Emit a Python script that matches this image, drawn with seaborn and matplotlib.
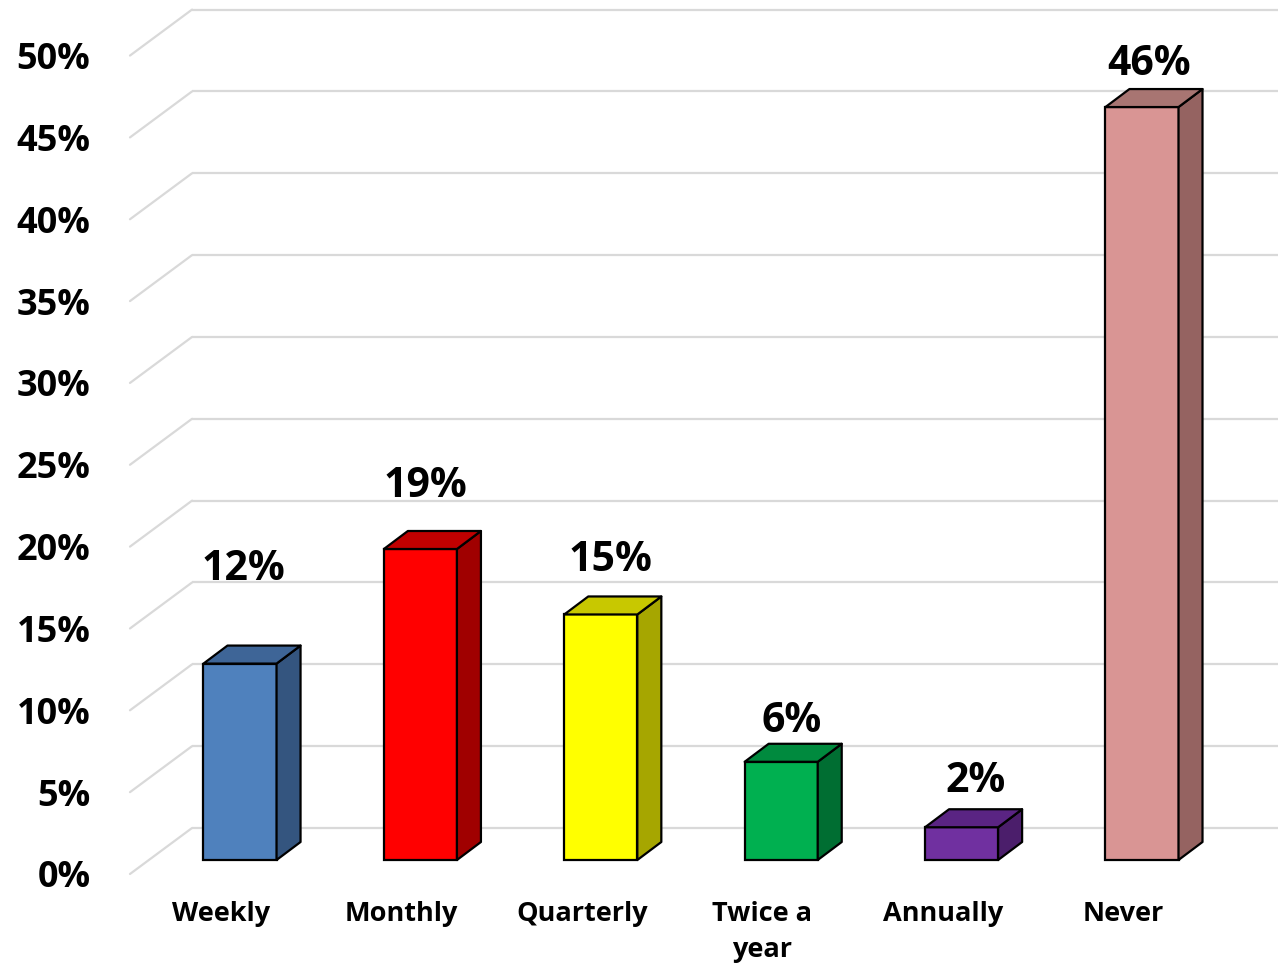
import matplotlib
matplotlib.use("Agg")
import matplotlib.pyplot as plt
from matplotlib.patches import Polygon
import seaborn as sns
import numpy as np

# ---- data ----
categories = ["Weekly", "Monthly", "Quarterly", "Twice a\nyear", "Annually", "Never"]
values = [12, 19, 15, 6, 2, 46]
value_labels = ["12%", "19%", "15%", "6%", "2%", "46%"]
tick_values = [0, 5, 10, 15, 20, 25, 30, 35, 40, 45, 50]
tick_labels = ["0%", "5%", "10%", "15%", "20%", "25%", "30%", "35%", "40%", "45%", "50%"]

# ---- styles ----
front_colors = ["#4f81bd", "#ff0000", "#ffff00", "#00b050", "#7030a0", "#d99594"]
top_colors = ["#3e6597", "#c00000", "#c8c800", "#008a3e", "#5a2483", "#a87572"]
side_colors = ["#34557f", "#a00000", "#a6a600", "#006e32", "#4b1e6b", "#956361"]
label_offsets = [5.1, 3.2, 2.65, 1.85, 2.15, 1.95]  # baseline offset above bar (in %)
label_dx = [0.02, 0.03, 0.055, 0.06, 0.08, 0.04]

sns.set_theme(style="white")
plt.rcParams["font.family"] = ["Open Sans", "DejaVu Sans"]

fig = plt.figure(figsize=(12.78, 9.67), dpi=100)
ax = fig.add_axes([128 / 1278, 87 / 967, 1150 / 1278, 880 / 967])

bar_w = 0.405
dx, dy = 0.133, 1.10        # 3D depth offsets
back_dy, back_x = 1.955, -0.266
front_dy, front_x = -0.855, -0.61

sns.barplot(x=categories, y=values, hue=categories, palette=front_colors,
            saturation=1, width=bar_w, edgecolor="black", linewidth=1.6,
            legend=False, ax=ax, zorder=3)

# back wall gridlines + floor diagonals
for v in tick_values:
    ax.plot([back_x, 5.8], [v + back_dy, v + back_dy], color="#d9d9d9", lw=1.6, zorder=1,
            solid_capstyle="butt")
    ax.plot([front_x, back_x], [v + front_dy, v + back_dy], color="#d9d9d9", lw=1.6, zorder=1)

# 3D top & side faces
for i, p in enumerate(ax.patches):
    x0 = p.get_x()
    w = p.get_width()
    h = p.get_height()
    top = Polygon([(x0, h), (x0 + w, h), (x0 + w + dx, h + dy), (x0 + dx, h + dy)],
                  closed=True, facecolor=top_colors[i], edgecolor="black", lw=1.6,
                  joinstyle="round", zorder=4)
    side = Polygon([(x0 + w, 0), (x0 + w + dx, dy), (x0 + w + dx, h + dy), (x0 + w, h)],
                   closed=True, facecolor=side_colors[i], edgecolor="black", lw=1.6,
                   joinstyle="round", zorder=4)
    ax.add_patch(side)
    ax.add_patch(top)
    ax.text(i + label_dx[i], h + label_offsets[i], value_labels[i], ha="center", va="baseline",
            fontsize=29.5, fontweight="bold", color="black", zorder=5)

ax.set_xlim(-0.621, 5.754)
ax.set_ylim(-1.222, 52.54)

ax.set_yticks([v + front_dy for v in tick_values])
ax.set_yticklabels(tick_labels, fontsize=26, fontweight="bold", color="black")
ax.set_xticks([i - 0.105 for i in range(len(categories))])
ax.set_xticklabels(categories, fontsize=19.5, fontweight="bold", color="black",
                   linespacing=1.5)
ax.tick_params(axis="y", length=0, pad=27)
ax.tick_params(axis="x", length=0, pad=15)
ax.set_xlabel("")
ax.set_ylabel("")
for s in ax.spines.values():
    s.set_visible(False)
ax.grid(False)

fig.savefig("out.png", dpi=100)
